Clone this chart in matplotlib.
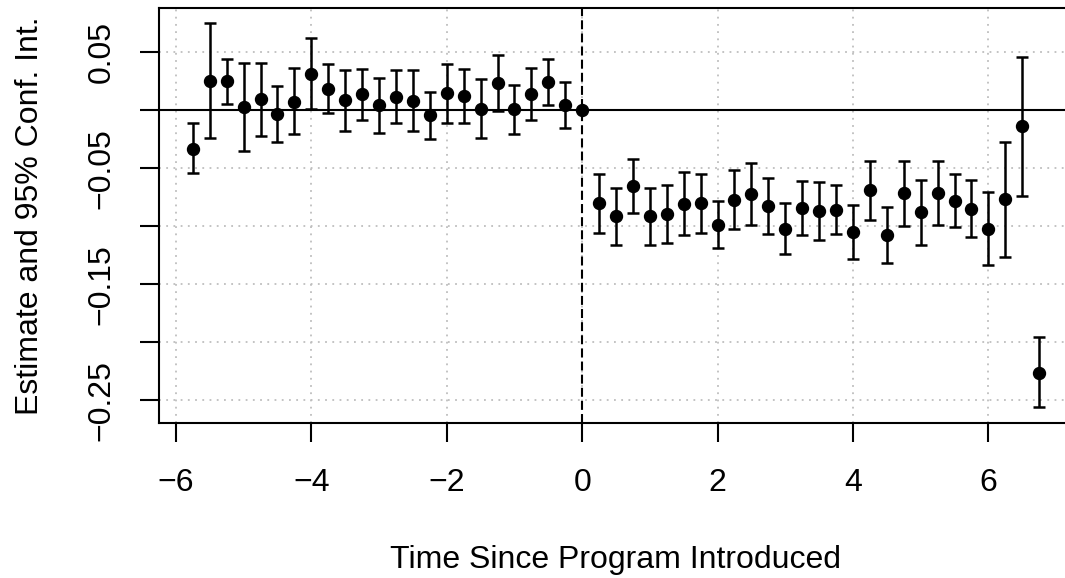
import matplotlib
matplotlib.use("Agg")
import matplotlib.pyplot as plt
import numpy as np

plt.rcParams['font.family'] = ['Liberation Sans', 'DejaVu Sans']

# event time (years relative to program start)
time_since = [-5.75, -5.5, -5.25, -5.0, -4.75, -4.5, -4.25, -4.0, -3.75, -3.5, -3.25, -3.0,
              -2.75, -2.5, -2.25, -2.0, -1.75, -1.5, -1.25, -1.0, -0.75, -0.5, -0.25, 0.0,
              0.25, 0.5, 0.75, 1.0, 1.25, 1.5, 1.75, 2.0, 2.25, 2.5, 2.75, 3.0, 3.25, 3.5,
              3.75, 4.0, 4.25, 4.5, 4.75, 5.0, 5.25, 5.5, 5.75, 6.0, 6.25, 6.5, 6.75]

estimate = [-0.0331, 0.0253, 0.0248, 0.0029, 0.0092, -0.0035, 0.0072, 0.0314, 0.0184, 0.0086,
            0.0135, 0.0040, 0.0115, 0.0081, -0.0046, 0.0144, 0.0124, 0.0014, 0.0236, 0.0006,
            0.0141, 0.0245, 0.0040, 0.0,
            -0.0803, -0.0915, -0.0653, -0.0915, -0.0898, -0.0806, -0.0800, -0.0990, -0.0771,
            -0.0720, -0.0826, -0.1025, -0.0846, -0.0869, -0.0861, -0.1051, -0.0685, -0.1077,
            -0.0714, -0.0881, -0.0711, -0.0780, -0.0849, -0.1025, -0.0769, -0.0141, -0.2263]

ci_upper = [-0.0115, 0.0748, 0.0443, 0.0406, 0.0403, 0.0210, 0.0360, 0.0619, 0.0397, 0.0343,
            0.0354, 0.0273, 0.0343, 0.0345, 0.0155, 0.0397, 0.0351, 0.0265, 0.0478, 0.0219,
            0.0363, 0.0440, 0.0245, 0.0,
            -0.0550, -0.0674, -0.0417, -0.0671, -0.0645, -0.0535, -0.0547, -0.0783, -0.0515,
            -0.0455, -0.0584, -0.0800, -0.0613, -0.0619, -0.0648, -0.0818, -0.0435, -0.0835,
            -0.0435, -0.0602, -0.0435, -0.0550, -0.0602, -0.0708, -0.0276, 0.0458, -0.1957]

ci_lower = [-0.0544, -0.0242, 0.0049, -0.0348, -0.0219, -0.0276, -0.0210, 0.0012, -0.0026, -0.0176,
            -0.0083, -0.0193, -0.0112, -0.0181, -0.0250, -0.0107, -0.0107, -0.0236, -0.0009, -0.0210,
            -0.0081, 0.0046, -0.0158, 0.0,
            -0.1059, -0.1160, -0.0887, -0.1163, -0.1143, -0.1079, -0.1056, -0.1192, -0.1028,
            -0.0990, -0.1065, -0.1244, -0.1074, -0.1123, -0.1071, -0.1287, -0.0944, -0.1315,
            -0.0996, -0.1166, -0.0993, -0.1010, -0.1097, -0.1339, -0.1264, -0.0737, -0.2562]

x_ticks = [-6, -4, -2, 0, 2, 4, 6]
y_ticks = [0.05, 0.0, -0.05, -0.10, -0.15, -0.20, -0.25]
y_ticklabels = ['0.05', '', '\u22120.05', '', '\u22120.15', '', '\u22120.25']
x_ticklabels = ['\u22126', '\u22124', '\u22122', '0', '2', '4', '6']

est = np.array(estimate)
lo = np.array(ci_lower)
hi = np.array(ci_upper)

fig = plt.figure(figsize=(10.65, 5.78), dpi=100)
# the plot box runs past the right edge of the picture, as in the original
ax = fig.add_axes([159 / 1065, 1 - 422.7 / 578, 914 / 1065, 414.7 / 578])

# R style range padding (4%)
xr = max(time_since) - min(time_since)
ax.set_xlim(min(time_since) - 0.04 * xr, max(time_since) + 0.04 * xr)
yr = hi.max() - lo.min()
ax.set_ylim(lo.min() - 0.04 * yr, hi.max() + 0.04 * yr)

for v in x_ticks:
    ax.axvline(v, color='#bebebe', lw=1.3, ls=(0, (1, 3)), zorder=0)
for v in y_ticks:
    ax.axhline(v, color='#bebebe', lw=1.3, ls=(0, (1, 3)), zorder=0)

ax.axhline(0, color='black', lw=1.5, zorder=1)
ax.axvline(0, color='black', lw=1.5, ls=(0, (4.3, 2)), zorder=1)

ax.errorbar(time_since, est, yerr=[est - lo, hi - est], fmt='o', color='black',
            ms=8.6, elinewidth=1.8, capsize=4.2, capthick=1.8, zorder=3)

ax.set_xticks(x_ticks)
ax.set_xticklabels(x_ticklabels)
ax.set_yticks(y_ticks)
ax.set_yticklabels(y_ticklabels, rotation=90, va='center')

ax.tick_params(axis='both', length=13.7, width=1.5, labelsize=23)
ax.tick_params(axis='x', pad=19)
ax.tick_params(axis='y', pad=17)
for s in ax.spines.values():
    s.set_linewidth(1.5)

ax.set_xlabel('Time Since Program Introduced', fontsize=23, labelpad=34)
ax.set_ylabel('Estimate and 95% Conf. Int.', fontsize=23, labelpad=30)

fig.savefig('out.png', dpi=100)
